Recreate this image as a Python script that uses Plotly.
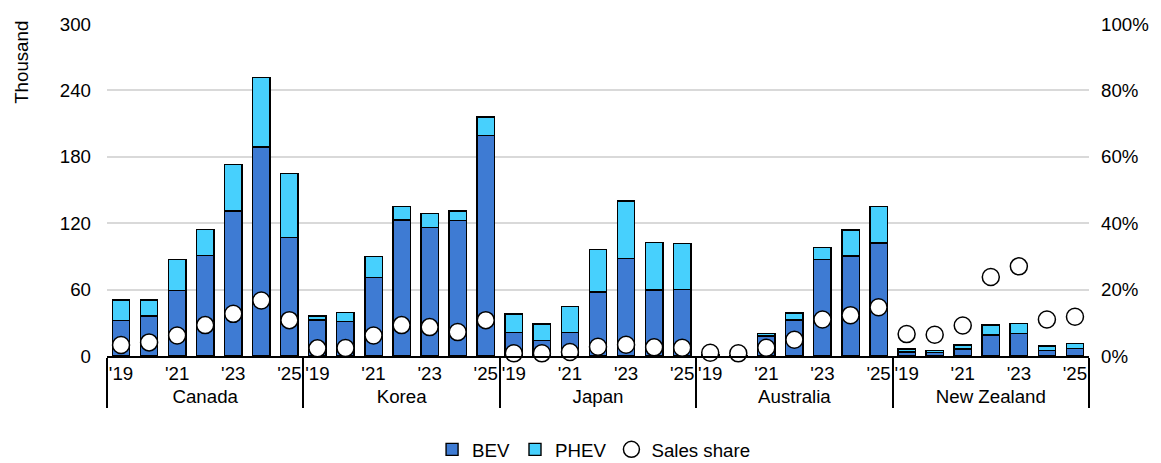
import plotly.graph_objects as go

countries = ["Canada", "Korea", "Japan", "Australia", "New Zealand"]
years = ["'19", " ", "'21", "  ", "'23", "   ", "'25"]

bev = {
    "Canada":      [32, 36, 59, 91, 131, 189, 107],
    "Korea":       [32.5, 31, 71, 123, 116, 122.5, 199.5],
    "Japan":       [21, 14, 21.5, 58, 88, 59.5, 60],
    "Australia":   [1.2, 0.5, 18, 32.5, 87, 90.5, 102],
    "New Zealand": [3.6, 3, 6.3, 19, 20.5, 5.1, 6.6],
}
phev = {
    "Canada":      [18.5, 14.5, 28, 23.5, 42, 62.5, 58],
    "Korea":       [3.5, 8.5, 19, 12, 12.5, 8.5, 16.5],
    "Japan":       [17, 15, 23, 38.5, 52, 43, 41.5],
    "Australia":   [0.3, 0.2, 2.5, 6.5, 11, 23.5, 33],
    "New Zealand": [2.7, 2.1, 3.6, 9, 9, 3.9, 4.5],
}
share = {
    "Canada":      [3.3, 4.1, 6.2, 9.3, 12.7, 16.7, 10.8],
    "Korea":       [2.3, 2.4, 6.2, 9.3, 8.7, 7.2, 10.8],
    "Japan":       [0.8, 0.8, 1.2, 2.8, 3.4, 2.6, 2.5],
    "Australia":   [1.0, 0.8, 2.5, 4.9, 11.0, 12.3, 14.7],
    "New Zealand": [6.6, 6.4, 9.2, 23.8, 27.0, 11.0, 11.8],
}

xc, xy, b, p, s = [], [], [], [], []
for c in countries:
    for i, y in enumerate(years):
        xc.append(c); xy.append(y)
        b.append(bev[c][i]); p.append(phev[c][i]); s.append(share[c][i] / 100)
x = [xc, xy]
n = len(xc)

FONT = "Arial, Liberation Sans, sans-serif"
FS = 18.7
BEV_C = "#3e7bd3"
PHEV_C = "#47d0fd"

fig = go.Figure()
fig.add_trace(go.Bar(x=x, y=b, name="BEV", marker=dict(color=BEV_C, line=dict(color="black", width=1.4))))
fig.add_trace(go.Bar(x=x, y=p, name="PHEV", marker=dict(color=PHEV_C, line=dict(color="black", width=1.4))))
fig.add_trace(go.Scatter(x=x, y=s, name="Sales share", mode="markers", yaxis="y2", cliponaxis=False,
                         marker=dict(size=17, color="white", line=dict(color="black", width=1.5))))

fig.update_layout(
    width=1161, height=463,
    margin=dict(l=99, r=80, t=16, b=115),
    barmode="stack", bargap=0.38,
    plot_bgcolor="white", paper_bgcolor="white",
    font=dict(family=FONT, size=FS, color="black"),
    showlegend=True,
    legend=dict(orientation="h", xref="paper", x=0.496, xanchor="center",
                yref="container", y=0.046, yanchor="middle",
                traceorder="normal", font=dict(size=FS), itemwidth=30, tracegroupgap=0),
    xaxis=dict(type="multicategory", showline=True, linecolor="black", linewidth=2,
               range=[-0.5, n - 0.5], automargin=False, tickangle=0,
               showdividers=True, dividercolor="black", dividerwidth=2,
               tickfont=dict(size=FS), ticks="", showgrid=False),
    yaxis=dict(range=[0, 300], tickvals=[0, 60, 120, 180, 240, 300], showline=False,
               gridcolor="#d9d9d9", gridwidth=1.5, zeroline=False, ticklabelstandoff=15,
               automargin=False, tickfont=dict(size=FS)),
    yaxis2=dict(range=[0, 1], tickvals=[0, 0.2, 0.4, 0.6, 0.8, 1.0], tickformat=".0%",
                overlaying="y", side="right", showgrid=False, zeroline=False,
                automargin=False, ticklabelstandoff=11, tickfont=dict(size=FS)),
    annotations=[dict(text="Thousand", textangle=-90, xref="paper", yref="paper",
                      x=-0.1, y=1.015, xanchor="left", yanchor="top", showarrow=False,
                      font=dict(size=FS))],
)

fig.write_html("out.html")
